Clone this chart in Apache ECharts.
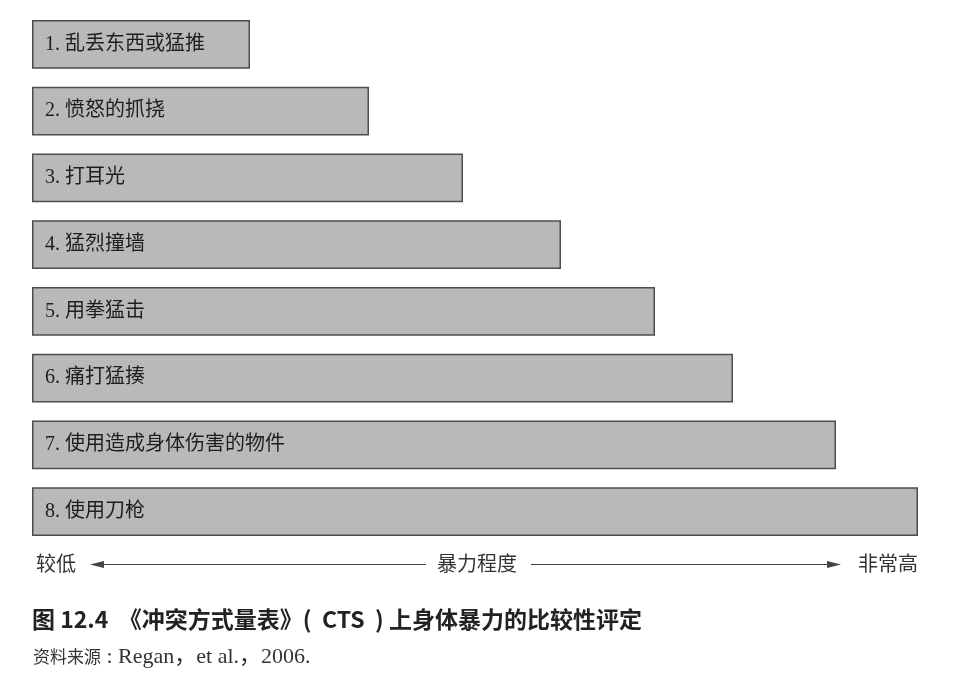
<!DOCTYPE html>
<html>
<head>
<meta charset="utf-8">
<script src="https://cdn.jsdelivr.net/npm/echarts@6/dist/echarts.min.js"></script>
<style>html,body{margin:0;padding:0;background:#fff;}#c{width:959px;height:677px;}</style>
</head>
<body>
<div id="c"></div>
<script>
var categories = ['1. 乱丢东西或猛推','2. 愤怒的抓挠','3. 打耳光','4. 猛烈撞墙','5. 用拳猛击','6. 痛打猛揍','7. 使用造成身体伤害的物件','8. 使用刀枪'];
var severity = [218, 337, 431, 529, 623, 701, 804, 886];
var axisLabels = ['较低', '暴力程度', '非常高'];
var captionText = '图 12.4  《冲突方式量表》(  CTS  ) 上身体暴力的比较性评定';
var sourceLabel = '资料来源';
var sourceRef = ' : Regan，et al.，2006.';

var chart = echarts.init(document.getElementById('c'));
var serif = '"Liberation Serif","Noto Sans CJK SC",serif';
var lineY = 564.5;
chart.setOption({
  animation: false,
  backgroundColor: '#fff',
  grid: {left: 32, width: 886, top: 11, height: 534},
  xAxis: {type: 'value', min: 0, max: 886, show: false},
  yAxis: {type: 'category', data: categories, inverse: true, show: false},
  series: [{
    type: 'bar',
    data: severity,
    barCategoryGap: '27%',
    itemStyle: {color: '#b9b9b9', borderColor: '#4d4d4d', borderWidth: 1.5},
    label: {show: true, position: 'insideLeft', distance: 13, formatter: '{b}',
      color: '#1e1e1e', fontSize: 20, fontFamily: serif}
  }],
  graphic: [
    {type: 'text', left: 36, top: lineY - 11, style: {text: axisLabels[0], fontSize: 20, fill: '#333', fontFamily: '"Noto Sans CJK SC"'}},
    {type: 'line', shape: {x1: 96, y1: lineY, x2: 426, y2: lineY}, style: {stroke: '#444', lineWidth: 1.2}},
    {type: 'polygon', shape: {points: [[90, lineY], [104, lineY - 3.5], [104, lineY + 3.5]]}, style: {fill: '#444'}},
    {type: 'text', left: 437, top: lineY - 11, style: {text: axisLabels[1], fontSize: 20, fill: '#333', fontFamily: '"Noto Sans CJK SC"'}},
    {type: 'line', shape: {x1: 531, y1: lineY, x2: 834, y2: lineY}, style: {stroke: '#444', lineWidth: 1.2}},
    {type: 'polygon', shape: {points: [[841, lineY], [827, lineY - 3.5], [827, lineY + 3.5]]}, style: {fill: '#444'}},
    {type: 'text', left: 858, top: lineY - 11, style: {text: axisLabels[2], fontSize: 20, fill: '#333', fontFamily: '"Noto Sans CJK SC"'}},
    {type: 'text', left: 32, top: 608, style: {text: captionText, fontSize: 23, fontWeight: 'bold', fill: '#222', fontFamily: '"Noto Sans CJK SC"'}},
    {type: 'text', left: 33, top: 646, style: {
      text: '{c|' + sourceLabel + '}{l|' + sourceRef + '}',
      rich: {
        c: {fontSize: 17, fill: '#333', fontFamily: '"Noto Sans CJK SC"'},
        l: {fontSize: 22, fill: '#333', fontFamily: serif}
      }
    }}
  ]
});
</script>
</body>
</html>
